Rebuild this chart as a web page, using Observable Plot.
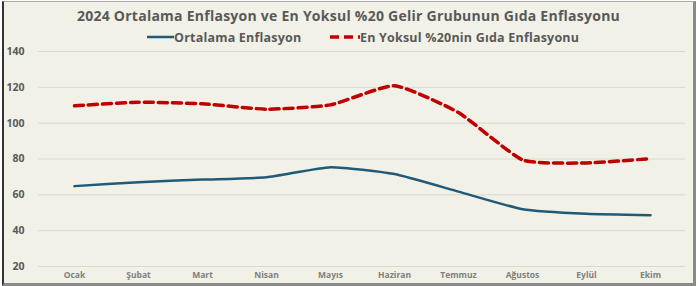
<!DOCTYPE html>
<html><head><meta charset="utf-8">
<script src="https://cdn.jsdelivr.net/npm/d3@7"></script>
<script src="https://cdn.jsdelivr.net/npm/@observablehq/plot@0.6"></script>
<style>
html,body{margin:0;padding:0;background:#fff;}
#frame{position:absolute;left:2px;top:1px;width:689px;height:281px;background:#f1f1e7;
 border-left:2px solid #333;border-top:1px solid #aaa;border-right:3px solid #8a8a8a;border-bottom:3px solid #8a8a8a;overflow:hidden;font-family:"Open Sans",sans-serif;}
#title{position:absolute;left:0;width:100%;top:4px;text-align:center;font-weight:700;font-size:14px;letter-spacing:0.25px;color:#595959;}
#legend{position:absolute;left:0;width:100%;top:26px;height:18px;font-weight:700;font-size:12.5px;letter-spacing:0.2px;color:#595959;}
.li{position:absolute;top:0;display:flex;align-items:center;height:18px;}
#chart{position:absolute;left:0;top:41px;}
</style></head><body>
<div id="frame">
  <div id="title">2024 Ortalama Enflasyon ve En Yoksul %20 Gelir Grubunun Gıda Enflasyonu</div>
  <div id="legend">
    <div class="li" style="left:143px"><svg width="27" height="6"><line x1="0" y1="3" x2="27" y2="3" stroke="#1f5b78" stroke-width="2.5"/></svg><span>Ortalama Enflasyon</span></div>
    <div class="li" style="left:326px"><svg width="30" height="6"><line x1="0" y1="3" x2="30" y2="3" stroke="#c00000" stroke-width="3.5" stroke-dasharray="9,5"/></svg><span>En Yoksul %20nin Gıda Enflasyonu</span></div>
  </div>
  <div id="chart"></div>
</div>
<script>
const months = ["Ocak","Şubat","Mart","Nisan","Mayıs","Haziran","Temmuz","Ağustos","Eylül","Ekim"];
const ortalama = [64.86, 67.07, 68.50, 69.80, 75.45, 71.60, 61.78, 51.97, 49.38, 48.58];
const yoksulGida = [109.7, 111.7, 110.8, 107.8, 110.2, 120.9, 105.9, 79.5, 77.8, 80.2];
const yTicks = [20, 40, 60, 80, 100, 120, 140];

const rowsA = months.map((m, i) => ({month: m, value: ortalama[i]}));
const rowsB = months.map((m, i) => ({month: m, value: yoksulGida[i]}));

const chart = Plot.plot({
  width: 689, height: 241,
  marginLeft: 34, marginRight: 8, marginTop: 8, marginBottom: 18,
  style: {background: "transparent", fontFamily: "Open Sans, sans-serif"},
  x: {type: "point", domain: months, padding: 0.5, label: null},
  y: {domain: [20, 140], ticks: yTicks, label: null},
  marks: [
    Plot.gridY(yTicks, {stroke: "#d9d9d0", strokeOpacity: 1}),
    Plot.axisY(yTicks, {tickSize: 0, tickPadding: 14, fontSize: 10.5, fontWeight: 700, fill: "#595959", label: null}),
    Plot.axisX({tickSize: 0, tickPadding: 5, fontSize: 8.5, fontWeight: 700, fill: "#808080", label: null}),
    Plot.line(rowsA, {x: "month", y: "value", stroke: "#1f5b78", strokeWidth: 2.5, curve: "cardinal", tension: 0.5}),
    Plot.line(rowsB, {x: "month", y: "value", stroke: "#c00000", strokeWidth: 3.5, strokeDasharray: "9,5", curve: "cardinal", tension: 0.5})
  ]
});
document.getElementById("chart").appendChild(chart);
</script>
</body></html>
